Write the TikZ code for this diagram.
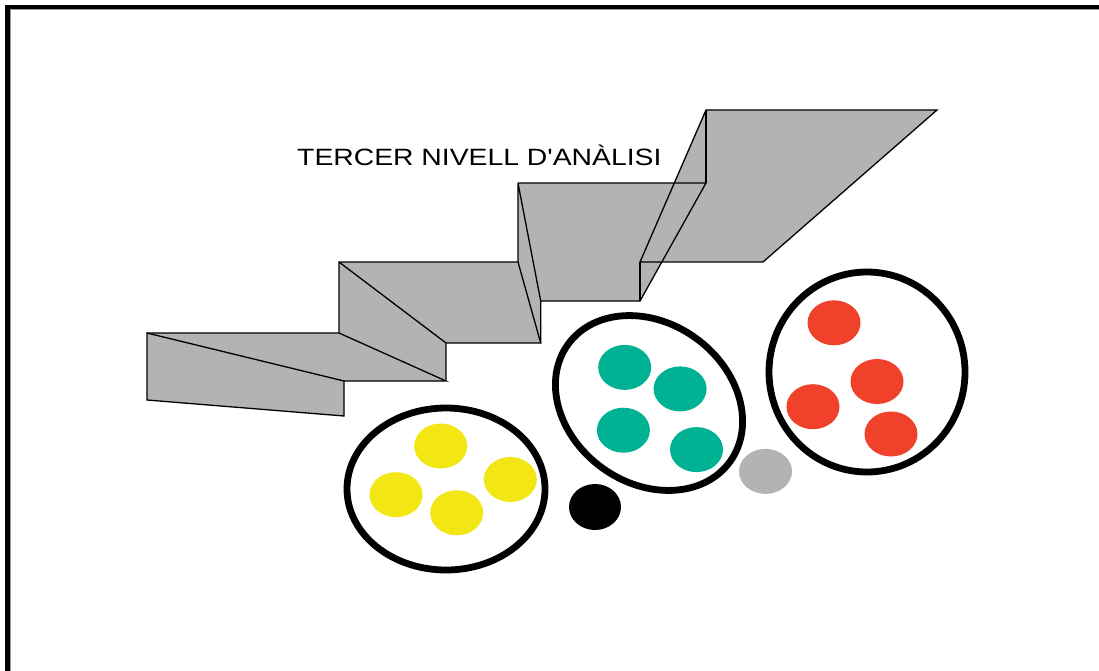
\documentclass[tikz,border=0pt]{standalone}
\usepackage{fontspec}
\newfontfamily\labfont[FakeStretch=1.2]{Liberation Sans}
\definecolor{stepgray}{RGB}{179,179,179}
\definecolor{dotyellow}{RGB}{242,230,20}
\definecolor{dotteal}{RGB}{0,178,148}
\definecolor{dotred}{RGB}{240,65,42}
\begin{document}
\begin{tikzpicture}[x=1pt,y=-1pt,
  face/.style={fill=stepgray},
  edge/.style={draw=black,line width=1.3pt,line join=miter},
  ring/.style={draw=black,line width=6.8pt},
  dotshape/.style={x radius=26.5,y radius=22.5}]
\useasboundingbox (0,0) rectangle (1099,671);
\fill[white] (0,0) rectangle (1099,671);
\begin{scope}
  \clip (0,0) rectangle (1099,671);
  \draw[line width=4.5pt] (7.5,7) rectangle (1130,700);
  \draw[black!40, line width=0.9pt] (10.6,700) -- (10.6,9.9) -- (1130,9.9);
\end{scope}
% staircase faces
\fill[face] (147,333) -- (344,381) -- (344,416) -- (147,400) -- cycle;
\fill[face] (147,333) -- (339,333) -- (446,381) -- (344,381) -- cycle;
\fill[face] (339,262) -- (446,343) -- (446,381) -- (339,333) -- cycle;
\fill[face] (339,262) -- (518,262) -- (540.7,343) -- (446,343) -- cycle;
\fill[face] (518,183) -- (540.7,301) -- (540.7,343) -- (518,262) -- cycle;
\fill[face] (518,183) -- (706,183) -- (640,301) -- (540.7,301) -- cycle;
\fill[face] (706,110) -- (706,183) -- (640,301) -- (640,262) -- cycle;
\fill[face] (706,110) -- (937,110) -- (763,262) -- (640,262) -- cycle;
% staircase edges
\draw[edge] (147,333) -- (344,381) -- (344,416) -- (147,400) -- cycle;
\draw[edge] (147,333) -- (339,333) -- (446,381) -- (344,381);
\draw[edge] (339,262) -- (446,343) -- (446,381);
\draw[edge] (339,333) -- (339,262) -- (518,262) -- (540.7,343) -- (446,343);
\draw[edge] (518,262) -- (518,183) -- (540.7,301) -- (540.7,343);
\draw[edge] (518,183) -- (706,183) -- (640,301) -- (540.7,301);
\draw[edge] (640,301) -- (640,262);
\draw[edge] (706,183) -- (706,110);
\draw[edge] (706,110) -- (937,110) -- (763,262) -- (640,262) -- cycle;
% title
\node[anchor=base west, inner sep=0pt, font=\labfont\fontsize{23.6}{28}\selectfont] (title) at (297,165.5) {TERCER NIVELL D'ANÀLISI};
% yellow group
\draw[ring] (446,489) ellipse [x radius=99, y radius=81];
\fill[dotyellow] (440.7,446) ellipse [dotshape];
\fill[dotyellow] (396,494.7) ellipse [dotshape];
\fill[dotyellow] (456.7,512.8) ellipse [dotshape];
\fill[dotyellow] (510.3,479.5) ellipse [dotshape];
% teal group
\draw[ring, rotate around={-36:(649,403)}] (649,403) ellipse [x radius=100, y radius=80];
\fill[dotteal] (624.7,367.4) ellipse [dotshape];
\fill[dotteal] (680.1,388.9) ellipse [dotshape];
\fill[dotteal] (623.4,430.2) ellipse [dotshape];
\fill[dotteal] (696.5,449.6) ellipse [dotshape];
% red group
\draw[ring] (867,372) ellipse [x radius=98, y radius=100];
\fill[dotred] (834,322.8) ellipse [dotshape];
\fill[dotred] (877,381.5) ellipse [dotshape];
\fill[dotred] (813,406.7) ellipse [dotshape];
\fill[dotred] (891,434) ellipse [dotshape];
% single dots
\fill[black] (595,507) ellipse [x radius=26, y radius=23];
\fill[stepgray] (765.5,471.4) ellipse [dotshape];
\end{tikzpicture}
\end{document}
